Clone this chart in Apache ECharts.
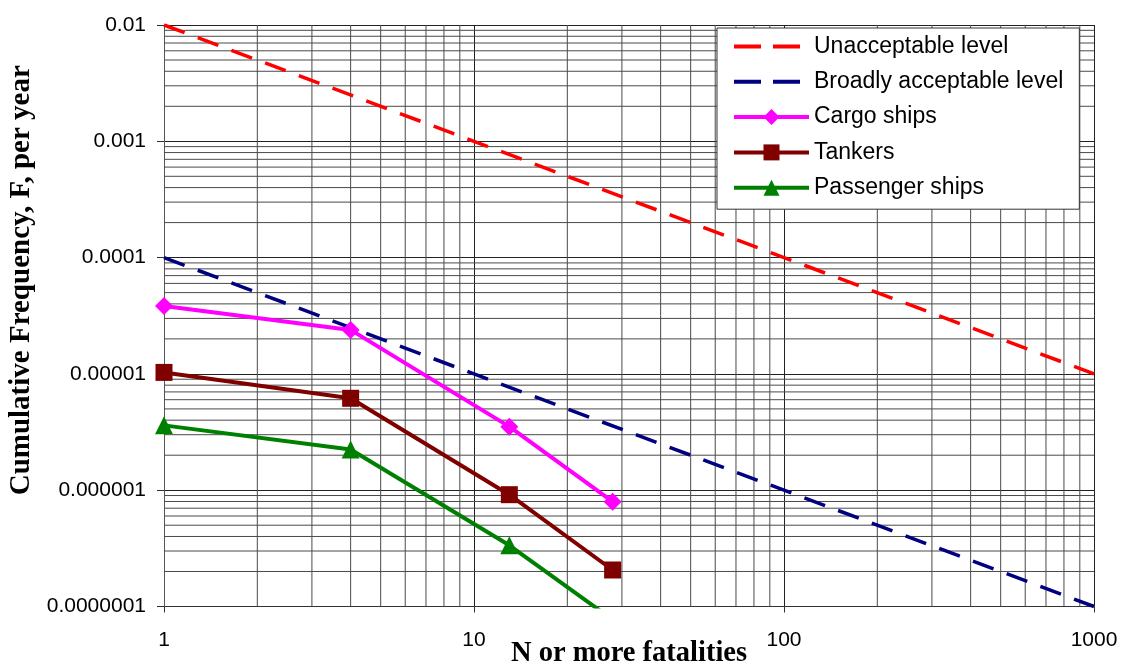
<!DOCTYPE html>
<html>
<head>
<meta charset="utf-8">
<script src="https://cdn.jsdelivr.net/npm/echarts@6/dist/echarts.min.js"></script>
<style>
html,body{margin:0;padding:0;background:#fff;}
#chart{width:1121px;height:666px;}
</style>
</head>
<body>
<div id="chart"></div>
<script>
// ---- data ----
const seriesNames = ['Unacceptable level', 'Broadly acceptable level', 'Cargo ships', 'Tankers', 'Passenger ships'];
const criterionN = [1, 1000];
const unacceptableF = [0.01, 0.00001];
const broadlyF = [0.0001, 0.0000001];
const shipN = [1, 4, 13, 28];
const cargoF = [3.84e-5, 2.39e-5, 3.52e-6, 7.96e-7];
const tankersF = [1.03e-5, 6.17e-6, 9.15e-7, 2.06e-7];
const passengerF = [3.61e-6, 2.24e-6, 3.36e-7, 7.7e-8];
const xTickLabels = ['1', '10', '100', '1000'];            // exponents 0..3
const yTickLabels = ['0.0000001', '0.000001', '0.00001', '0.0001', '0.001', '0.01']; // exponents -7..-2

function pairs(xs, ys) { return xs.map((x, i) => [x, ys[i]]); }

// minor gridline positions (2..9 within each decade)
const minorX = [];
for (let e = 0; e < 3; e++) for (let k = 2; k <= 9; k++) minorX.push(k * Math.pow(10, e));
const minorY = [];
for (let e = -7; e < -2; e++) for (let k = 2; k <= 9; k++) minorY.push(k * Math.pow(10, e));
const X_MIN = 1, X_MAX = 1000, Y_MIN = 0.0000001, Y_MAX = 0.01;
// gridline polyline with gaps between segments
const gridPts = [];
minorX.forEach(v => { gridPts.push([v, Y_MIN], [v, Y_MAX], ['-', '-']); });
minorY.forEach(v => { gridPts.push([X_MIN, v], [X_MAX, v], ['-', '-']); });

const chart = echarts.init(document.getElementById('chart'), null, {renderer: 'canvas'});
const sansFont = '"Liberation Sans", Arial, sans-serif';
const serifFont = '"Liberation Serif", "Times New Roman", serif';
const hiddenSymbol = {color: 'rgba(0,0,0,0)', borderColor: 'rgba(0,0,0,0)', borderWidth: 0};

const option = {
  animation: false,
  backgroundColor: '#ffffff',
  grid: {left: 164, right: 27, top: 25, bottom: 59.5, containLabel: false, outerBoundsMode: 'none'},
  legend: {
    data: [
      {name: seriesNames[0], itemStyle: hiddenSymbol, lineStyle: {type: [27, 12]}},
      {name: seriesNames[1], itemStyle: hiddenSymbol, lineStyle: {type: [27, 12]}},
      {name: seriesNames[2]},
      {name: seriesNames[3]},
      {name: seriesNames[4]}
    ],
    orient: 'vertical',
    left: 717, top: 28,
    padding: [7, 16, 10, 15],
    itemGap: 12.3,
    itemWidth: 75,
    itemHeight: 20,
    backgroundColor: '#ffffff',
    borderColor: '#333',
    borderWidth: 1,
    z: 10,
    lineStyle: {width: 4},
    textStyle: {fontFamily: sansFont, fontSize: 23, color: '#000'}
  },
  xAxis: {
    type: 'log', logBase: 10, min: X_MIN, max: X_MAX,
    name: 'N or more fatalities',
    nameLocation: 'middle', nameGap: 33, nameMoveOverlap: false,
    nameTextStyle: {fontFamily: serifFont, fontWeight: 'bold', fontSize: 28.5, color: '#000'},
    axisLine: {show: true, lineStyle: {color: '#333', width: 1}},
    axisTick: {show: true, inside: false, length: 6, lineStyle: {color: '#333'}},
    axisLabel: {
      fontFamily: sansFont, fontSize: 21, color: '#000', margin: 23,
      formatter: v => xTickLabels[Math.round(Math.log10(v))] ?? ''
    },
    splitLine: {show: true, lineStyle: {color: '#222', width: 1}},
    minorTick: {show: false}, minorSplitLine: {show: false}
  },
  yAxis: {
    type: 'log', logBase: 10, min: Y_MIN, max: Y_MAX,
    name: 'Cumulative Frequency, F, per year',
    nameLocation: 'middle', nameGap: 128, nameMoveOverlap: false,
    nameTextStyle: {fontFamily: serifFont, fontWeight: 'bold', fontSize: 29, color: '#000', padding: [0, 0, 0, 71]},
    axisLine: {show: true, lineStyle: {color: '#555', width: 1}},
    axisTick: {show: true, inside: false, length: 7, lineStyle: {color: '#333'}},
    axisLabel: {
      fontFamily: sansFont, fontSize: 21, color: '#000', margin: 18,
      formatter: v => yTickLabels[Math.round(Math.log10(v)) + 7] ?? ''
    },
    splitLine: {show: true, lineStyle: {color: '#222', width: 1}},
    minorTick: {show: false}, minorSplitLine: {show: false}
  },
  series: [
    {
      name: 'gridMinor', type: 'line', data: gridPts, symbol: 'none', silent: true,
      connectNulls: false, z: 1, legendHoverLink: false,
      lineStyle: {color: '#4a4a4a', width: 1},
      emphasis: {disabled: true}
    },
    {
      name: seriesNames[0], type: 'line', data: pairs(criterionN, unacceptableF),
      symbol: 'none', z: 3, color: '#FF0000',
      lineStyle: {color: '#FF0000', width: 3.5, type: [22, 14]}
    },
    {
      name: seriesNames[1], type: 'line', data: pairs(criterionN, broadlyF),
      symbol: 'none', z: 3, color: '#000080',
      lineStyle: {color: '#000080', width: 3.5, type: [22, 14]}
    },
    {
      name: seriesNames[2], type: 'line', data: pairs(shipN, cargoF),
      symbol: 'diamond', symbolSize: 18, z: 3, color: '#FF00FF',
      itemStyle: {color: '#FF00FF'},
      lineStyle: {color: '#FF00FF', width: 4}
    },
    {
      name: seriesNames[3], type: 'line', data: pairs(shipN, tankersF),
      symbol: 'rect', symbolSize: 17, z: 3, color: '#800000',
      itemStyle: {color: '#800000'},
      lineStyle: {color: '#800000', width: 4}
    },
    {
      name: seriesNames[4], type: 'line', data: pairs(shipN, passengerF),
      symbol: 'triangle', symbolSize: 18, z: 3, color: '#008000',
      itemStyle: {color: '#008000'},
      lineStyle: {color: '#008000', width: 4}
    }
  ]
};
chart.setOption(option);
</script>
</body>
</html>
